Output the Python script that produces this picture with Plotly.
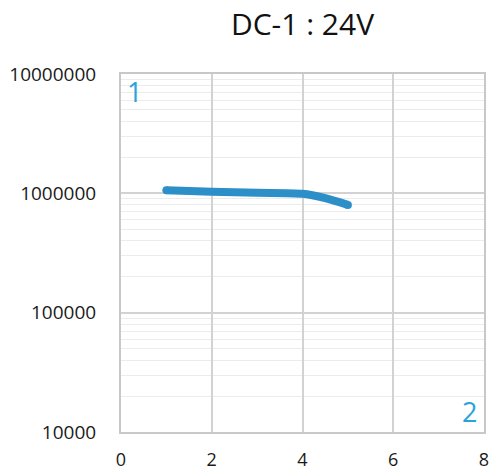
import plotly.graph_objects as go

# data
cycles_x = [1.0, 2.0, 3.0, 4.0, 4.5, 5.0]
life_y = [1060000, 1030000, 1010000, 990000, 910000, 800000]
x_ticks = [0, 2, 4, 6, 8]
y_ticks = [10000, 100000, 1000000, 10000000]
y_tick_text = ["10000", "100000", "1000000", "10000000"]
title_text = "DC-1 : 24V"

LINE = "#2D8FC7"
LABEL = "#2AA3DC"

fig = go.Figure()
fig.add_trace(go.Scatter(
    x=cycles_x, y=life_y, mode="lines",
    line=dict(color=LINE, width=8, shape="spline", smoothing=0.8),
    showlegend=False, hoverinfo="skip",
))
# round end caps
fig.add_trace(go.Scatter(
    x=[cycles_x[0], cycles_x[-1]], y=[life_y[0], life_y[-1]], mode="markers",
    marker=dict(color=LINE, size=8), showlegend=False, hoverinfo="skip",
))

fig.update_layout(
    width=492, height=470,
    margin=dict(l=121, r=8, t=74, b=38, autoexpand=False),
    paper_bgcolor="white", plot_bgcolor="white",
    font=dict(family="Open Sans, Noto Sans, sans-serif", color="#1a1a1a"),
    title=dict(text=title_text, x=0.5, xref="paper", xanchor="center",
               y=1 - 24 / 470, yref="container", yanchor="middle",
               font=dict(size=30, color="#111111")),
    xaxis=dict(
        range=[0, 8], tickvals=x_ticks, ticktext=[str(v) for v in x_ticks],
        showgrid=True, gridcolor="#d2d2d2", gridwidth=1.5,
        showline=True, linecolor="#c8c8c8", linewidth=2, mirror=True,
        ticks="outside", ticklen=10, tickcolor="rgba(0,0,0,0)",
        tickfont=dict(size=18), zeroline=False, automargin=False,
    ),
    yaxis=dict(
        type="log", range=[4, 7], tickvals=y_ticks, ticktext=y_tick_text,
        showgrid=True, gridcolor="#d2d2d2", gridwidth=1.5,
        minor=dict(showgrid=True, gridcolor="#ececec", gridwidth=1.2, dtick="D1"),
        showline=True, linecolor="#c8c8c8", linewidth=2, mirror=True,
        ticks="outside", ticklen=19, tickcolor="rgba(0,0,0,0)",
        tickfont=dict(size=19), zeroline=False, automargin=False,
    ),
    annotations=[
        dict(text="1", xref="paper", yref="paper", x=0.012, y=1.008, xanchor="left", yanchor="top",
             showarrow=False, font=dict(size=27, color=LABEL)),
        dict(text="2", xref="paper", yref="paper", x=0.985, y=0.0, xanchor="right", yanchor="bottom",
             showarrow=False, font=dict(size=27, color=LABEL)),
    ],
)

fig.write_html("out.html", config={"displayModeBar": False},
               post_script="document.body.style.margin='0';document.body.style.padding='0';")
